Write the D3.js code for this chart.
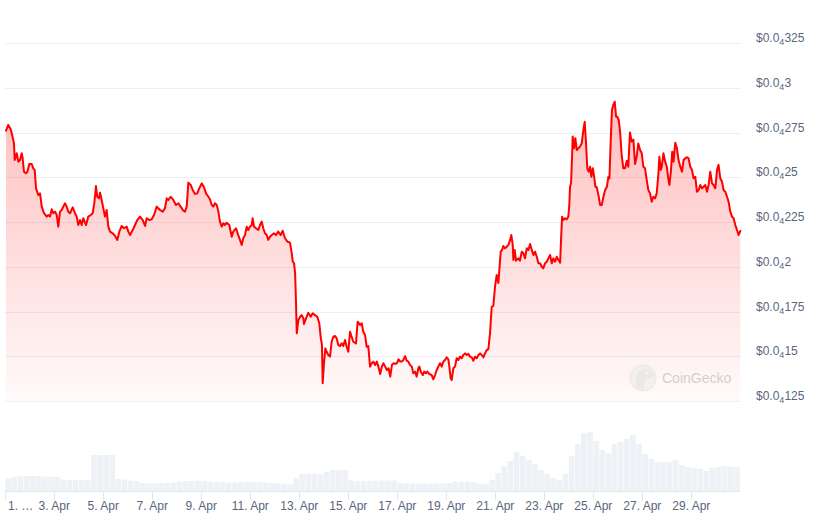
<!DOCTYPE html>
<html>
<head>
<meta charset="utf-8">
<script src="https://cdn.jsdelivr.net/npm/d3@7"></script>
<style>
  html, body { margin: 0; padding: 0; background: #ffffff; }
  svg { display: block; font-family: "Liberation Sans", Arial, sans-serif; }
</style>
</head>
<body>
<svg id="chart" width="820" height="527"></svg>
<script>
// ---- DATA ----
// Price series: [hours since 1 Apr 00:00, price in micro-USD (1e-6 $)]
const priceSeries = [
[0.7,27.60],[2.9,27.92],[5.3,27.68],[7.2,27.23],[8.5,26.90],[9.2,25.96],[11.2,26.34],[12.7,25.87],[14.4,25.96],[16.1,26.34],
[17.0,26.06],[18.3,25.31],[20.3,25.22],[21.6,25.31],[23.5,25.74],[25.9,25.74],[27.4,25.50],[28.8,25.41],[30.1,24.38],[32.3,24.01],
[34.0,24.10],[35.7,23.36],[37.9,22.99],[40.6,22.80],[42.1,22.89],[43.8,22.80],[45.5,23.21],[47.0,22.99],[48.7,23.08],[50.4,22.89],
[51.9,22.24],[53.6,23.08],[55.3,23.17],[56.8,23.36],[58.5,23.55],[60.1,23.36],[61.7,23.08],[63.4,22.99],[66.0,23.32],[68.3,22.99],
[69.9,22.80],[71.5,22.33],[73.2,22.61],[74.8,22.33],[76.4,22.71],[79.1,22.33],[81.3,22.80],[83.7,22.89],[85.6,22.99],[87.2,23.55],
[88.8,24.51],[90.1,23.91],[91.8,23.82],[92.8,24.14],[94.4,23.73],[96.0,23.27],[97.7,22.80],[99.3,23.17],[100.9,22.24],[102.6,21.96],
[105.2,21.87],[107.5,21.72],[109.7,21.50],[111.7,21.96],[114.0,22.28],[116.3,22.15],[118.9,22.24],[120.5,21.96],[122.2,21.77],[124.8,22.05],
[127.1,22.33],[129.3,22.61],[132.0,22.80],[134.6,22.61],[136.9,22.28],[138.5,22.71],[141.1,22.61],[143.4,22.65],[145.7,22.89],[148.3,23.36],
[149.9,23.27],[151.5,23.17],[154.2,23.08],[156.4,23.27],[158.1,23.82],[159.7,23.73],[162.0,23.91],[164.6,23.73],[167.2,23.45],[169.5,23.55],
[171.8,23.36],[174.4,23.13],[176.0,23.08],[177.7,23.36],[179.3,24.70],[181.6,24.57],[183.6,24.29],[185.8,24.07],[188.1,24.10],[190.0,24.38],
[192.4,24.66],[194.7,24.44],[196.6,24.10],[198.9,23.91],[200.5,23.77],[202.2,23.45],[203.8,23.36],[205.4,23.55],[207.1,23.45],[208.7,23.08],
[210.3,22.52],[212.0,22.24],[213.6,22.43],[215.2,22.33],[216.9,22.46],[219.4,22.33],[221.8,21.68],[223.3,21.96],[226.0,22.15],[228.2,21.77],
[229.9,21.50],[231.6,21.22],[233.1,21.59],[234.8,21.77],[236.5,22.24],[238.0,22.05],[239.7,22.24],[241.4,22.33],[242.3,22.71],[243.6,22.24],
[245.6,22.15],[247.8,22.05],[249.5,22.33],[251.2,22.52],[252.7,22.15],[254.4,21.87],[256.1,21.77],[257.6,21.50],[259.3,21.68],[261.0,21.77],
[263.2,21.87],[265.2,21.77],[267.4,21.96],[269.8,21.77],[271.7,22.01],[274.0,21.59],[276.3,21.40],[278.9,21.34],[280.6,20.75],[281.6,20.28],
[282.9,20.19],[283.9,19.63],[284.8,17.96],[285.5,16.28],[287.1,17.03],[288.8,17.21],[290.4,17.30],[292.0,17.12],[292.6,16.80],[294.6,17.12],
[296.8,17.43],[299.2,17.21],[301.1,17.40],[303.4,17.30],[305.6,17.21],[307.6,16.84],[308.9,16.09],[310.2,15.63],[310.9,13.49],[312.2,14.61],
[313.5,15.44],[314.8,15.25],[316.4,15.07],[318.1,14.98],[319.7,15.81],[321.3,16.09],[323.0,16.13],[324.6,16.00],[326.2,15.63],[327.9,15.57],
[329.5,15.72],[331.1,15.57],[332.8,15.91],[334.4,15.53],[336.0,15.25],[337.7,16.37],[339.3,16.09],[340.9,15.81],[343.5,15.72],[345.2,16.93],
[347.5,16.75],[349.1,16.84],[350.7,16.37],[352.4,16.19],[354.0,15.53],[355.6,15.57],[357.3,14.42],[359.0,14.61],[360.6,14.70],[362.3,14.51],
[363.9,14.70],[365.5,14.42],[367.2,14.01],[368.9,14.42],[370.4,14.61],[372.1,14.42],[373.8,14.23],[375.4,14.33],[377.1,13.86],[378.7,14.51],
[380.4,14.61],[382.0,14.57],[383.6,14.61],[385.2,14.83],[386.9,14.70],[388.3,14.70],[389.9,14.79],[391.6,15.01],[393.2,14.75],[394.8,14.70],
[396.5,14.51],[398.2,14.42],[399.7,14.05],[401.4,14.14],[403.0,13.86],[404.6,14.33],[405.6,14.42],[407.0,14.14],[409.0,13.95],[410.3,14.14],
[412.2,14.05],[413.4,14.14],[415.4,14.01],[417.7,13.95],[419.3,13.71],[421.0,13.95],[422.6,14.23],[424.2,14.42],[425.8,14.61],[427.5,14.42],
[429.1,14.70],[430.7,14.79],[432.4,14.94],[434.0,14.83],[435.0,14.42],[436.3,13.77],[437.3,13.67],[438.9,14.33],[440.5,14.42],[442.2,14.89],
[443.8,14.79],[445.4,14.98],[447.1,14.89],[448.7,15.07],[450.4,15.16],[452.0,15.07],[453.6,15.13],[455.3,14.98],[457.0,14.94],[458.5,14.75],
[460.2,14.98],[461.8,14.89],[463.5,15.07],[465.1,15.16],[466.8,15.07],[468.3,14.94],[470.0,15.16],[471.6,15.35],[473.2,15.39],[474.8,16.28],
[476.5,17.77],[478.1,17.81],[479.7,18.89],[481.4,19.54],[483.0,19.09],[485.3,20.84],[486.6,20.94],[487.9,21.16],[489.5,21.03],[491.2,21.12],
[492.8,21.22],[494.5,21.50],[495.7,21.77],[497.1,21.22],[497.7,20.38],[499.0,20.94],[500.3,20.34],[502.6,20.47],[504.2,20.34],[505.9,20.84],
[507.5,20.75],[509.1,20.47],[510.8,21.03],[512.4,20.94],[514.1,21.27],[515.7,20.94],[517.4,20.66],[519.0,20.84],[520.6,20.56],[522.2,20.19],
[523.9,20.19],[525.5,20.00],[527.0,19.91],[528.7,20.19],[530.4,20.28],[532.0,20.47],[533.7,20.66],[535.3,20.19],[536.9,20.47],[538.6,20.28],
[540.2,20.56],[541.8,20.38],[543.5,20.23],[544.4,21.50],[545.4,22.80],[546.6,22.61],[548.3,22.71],[550.0,22.65],[551.5,22.80],[552.5,23.45],
[553.2,24.47],[554.2,24.66],[555.2,26.15],[555.8,27.27],[557.1,26.62],[558.4,27.18],[559.8,26.52],[561.4,26.62],[563.0,26.71],[564.7,26.90],
[566.3,27.64],[567.6,28.10],[568.9,26.90],[570.1,25.50],[571.5,25.31],[572.8,25.59],[574.1,25.03],[575.5,25.50],[576.8,25.03],[578.1,24.47],
[579.4,24.44],[581.0,24.01],[582.7,23.45],[584.3,23.45],[585.9,23.91],[587.6,24.29],[589.3,24.47],[590.8,25.03],[591.8,24.94],[593.2,27.27],
[594.3,28.76],[595.6,29.04],[597.0,29.22],[598.3,28.38],[599.5,28.38],[600.9,28.20],[602.2,27.58],[603.8,26.24],[605.4,25.50],[607.1,25.50],
[608.8,25.92],[610.3,25.59],[611.9,27.50],[613.6,26.99],[615.3,27.10],[616.9,25.74],[618.6,26.19],[620.1,26.89],[621.8,26.52],[623.5,26.34],
[625.0,25.59],[626.7,25.50],[628.3,24.85],[629.9,24.29],[631.6,24.10],[633.2,23.63],[634.8,23.91],[636.5,23.82],[638.1,24.10],[639.8,25.22],
[640.7,26.15],[642.1,25.41],[643.1,25.59],[644.7,26.34],[646.4,25.87],[648.0,25.59],[649.6,24.85],[650.6,24.57],[652.0,25.31],[653.3,26.43],
[654.6,25.87],[656.3,26.93],[657.9,26.62],[659.5,25.96],[661.2,25.59],[662.9,25.31],[664.4,25.96],[666.1,26.06],[667.8,26.12],[669.3,26.06],
[671.0,25.59],[672.7,25.41],[674.2,24.94],[675.9,25.03],[677.5,24.19],[679.2,24.29],[680.8,24.57],[682.5,24.38],[684.0,24.47],[685.7,24.57],
[687.4,24.19],[688.9,24.57],[690.6,25.31],[692.3,24.66],[693.8,24.57],[695.5,24.38],[697.2,25.41],[698.7,25.69],[700.4,24.94],[702.1,24.75],
[703.6,24.29],[705.3,24.19],[707.0,23.91],[708.5,23.63],[710.2,23.08],[711.9,22.80],[713.4,22.71],[715.1,22.33],[716.8,22.05],[718.3,21.77],
[720.0,22.00]
];

// Volume per 6-hour bucket (relative units), starting 1 Apr 00:00
const volumeValues = [
12.7,14,15,15,15,15,14.5,14.5,14,11.5,
11,11,11,11,36,36,36,36,12,11.5,
10.5,10,8,7.5,7.5,8,8,8.5,9.5,10,
10,10.5,10,9.5,9,9,8.5,8.5,9,9,
9,9,8.5,8,7.5,7,6.5,13,17,17,
17,17,19,21,21,21,10.5,10,10,10,
10.5,10.5,10.5,10.5,8,7.5,7.5,7.5,7.5,7.5,
7.5,7.5,8,9.5,9.5,9.5,9,7.5,7,11,
18,25,30,39,35,31,27,21,17,13,
11,17,35,47,58,59,50,41,38,47,
49,52,56,47,37,32,29,29,29,31,
26,24,23,22,20,23,24,25,24.5,24
];
const volumeBucketHours = 6;

// Axis ticks
const yTickValues = [12.5, 15, 17.5, 20, 22.5, 25, 27.5, 30, 32.5];
const yTickDigits = ["125", "15", "175", "2", "225", "25", "275", "3", "325"];
const yTickZeros = "4";
const xTickDays = [1, 3, 5, 7, 9, 11, 13, 15, 17, 19, 21, 23, 25, 27, 29];
const xTickLabels = ["1. …", "3. Apr", "5. Apr", "7. Apr", "9. Apr", "11. Apr", "13. Apr", "15. Apr",
                     "17. Apr", "19. Apr", "21. Apr", "23. Apr", "25. Apr", "27. Apr", "29. Apr"];

// ---- LAYOUT ----
const svg = d3.select("#chart");
const plotLeft = 5.3, plotRight = 740.3;
const priceTop = 43, priceBottom = 401;
const volTop = 431, volBottom = 491;

const x = d3.scaleLinear().domain([0, 720]).range([plotLeft, plotRight]);
const y = d3.scaleLinear().domain([12.5, 32.5]).range([priceBottom, priceTop]);
const yv = d3.scaleLinear().domain([0, 60]).range([volBottom, volTop]);

// gradient
const defs = svg.append("defs");
const grad = defs.append("linearGradient").attr("id", "areaGrad")
  .attr("gradientUnits", "userSpaceOnUse")
  .attr("x1", 0).attr("x2", 0).attr("y1", priceTop).attr("y2", priceBottom);
grad.append("stop").attr("offset", 0).attr("stop-color", "#ff0000").attr("stop-opacity", 0.3);
grad.append("stop").attr("offset", 1).attr("stop-color", "#ff0000").attr("stop-opacity", 0.02);

// gridlines
svg.append("g").selectAll("line").data(yTickValues).join("line")
  .attr("x1", plotLeft).attr("x2", plotRight)
  .attr("y1", d => Math.round(y(d)) + 0.5).attr("y2", d => Math.round(y(d)) + 0.5)
  .attr("stroke", "#edf0f3").attr("stroke-width", 1);

// volume bars
const step = x(volumeBucketHours) - x(0);
svg.append("g").selectAll("rect").data(volumeValues).join("rect")
  .attr("x", (d, i) => x(i * volumeBucketHours))
  .attr("width", step - 0.5)
  .attr("y", d => yv(d))
  .attr("height", d => volBottom - yv(d))
  .attr("fill", "#eef1f5");

// x axis line + ticks
svg.append("line").attr("x1", plotLeft).attr("x2", plotRight)
  .attr("y1", volBottom + 0.5).attr("y2", volBottom + 0.5)
  .attr("stroke", "#e3e6ea").attr("stroke-width", 1);
const xt = svg.append("g");
xt.selectAll("line").data(xTickDays).join("line")
  .attr("x1", d => Math.round(x((d - 1) * 24)) + 0.5)
  .attr("x2", d => Math.round(x((d - 1) * 24)) + 0.5)
  .attr("y1", volBottom).attr("y2", volBottom + 9)
  .attr("stroke", "#e3e6ea").attr("stroke-width", 1);
xt.selectAll("text").data(xTickDays).join("text")
  .attr("x", (d, i) => i === 0 ? 8 : x((d - 1) * 24))
  .attr("y", 510)
  .attr("text-anchor", (d, i) => i === 0 ? "start" : "middle")
  .attr("font-size", 12).attr("fill", "#58667e")
  .text((d, i) => xTickLabels[i]);

// area + line
const area = d3.area().x(d => x(d[0])).y0(priceBottom).y1(d => y(d[1]));
const line = d3.line().x(d => x(d[0])).y(d => y(d[1]));
svg.append("path").datum(priceSeries).attr("d", area).attr("fill", "url(#areaGrad)");

// watermark
const wm = svg.append("g").attr("opacity", 0.6);
wm.append("circle").attr("cx", 643).attr("cy", 378).attr("r", 13)
  .attr("fill", "#ececec").attr("stroke", "#dedede").attr("stroke-width", 1);
wm.append("path").attr("d", "M636,389 C634,380 636,370 645,369 C651,369 654,373 653,377 C650,379 646,378 645,381 C644,385 644,388 644,390")
  .attr("fill", "#e0e0e0");
wm.append("circle").attr("cx", 647).attr("cy", 373).attr("r", 1.6).attr("fill", "#f6f6f6");
wm.append("text").attr("x", 662).attr("y", 383).attr("font-size", 14)
  .attr("fill", "#b5b5b5").text("CoinGecko");

svg.append("path").datum(priceSeries).attr("d", line)
  .attr("fill", "none").attr("stroke", "#ff0000").attr("stroke-width", 2)
  .attr("stroke-linejoin", "round").attr("stroke-linecap", "round");

// y labels
const yl = svg.append("g").selectAll("text").data(yTickValues).join("text")
  .attr("x", 756).attr("y", d => Math.round(y(d)) - 1)
  .attr("font-size", 12).attr("fill", "#58667e");
yl.append("tspan").text("$0.0");
yl.append("tspan").attr("font-size", 9).attr("dy", 3).text(yTickZeros);
yl.append("tspan").attr("dy", -3).text((d, i) => yTickDigits[i]);
</script>
</body>
</html>
